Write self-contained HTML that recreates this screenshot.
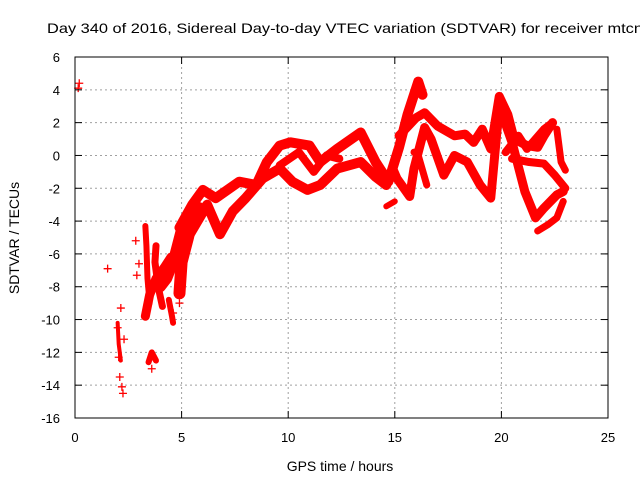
<!DOCTYPE html>
<html><head><meta charset="utf-8"><style>
body{margin:0;background:#fff}
svg{display:block;font-family:"Liberation Sans",sans-serif}
</style></head><body>
<svg id="c" width="640" height="480" viewBox="0 0 640 480" xmlns="http://www.w3.org/2000/svg">
<text x="47" y="33" font-size="14" textLength="596" lengthAdjust="spacingAndGlyphs">Day 340 of 2016, Sidereal Day-to-day VTEC variation (SDTVAR) for receiver mtcn</text>
<text x="340" y="471" font-size="14" text-anchor="middle">GPS time / hours</text>
<text x="0" y="0" font-size="14" text-anchor="middle" transform="translate(19,238) rotate(-90)">SDTVAR / TECUs</text>
<g id="grid"></g>
<g id="marks"></g>
<rect x="75" y="57" width="533" height="361" fill="none" stroke="#000" stroke-width="1"/>
<g id="axes"></g>
</svg>
<script>
const xTicks=[0,5,10,15,20,25];
const yTicks=[6,4,2,0,-2,-4,-6,-8,-10,-12,-14,-16];
const trackA=[[4.9,-4.4],[5.5,-3.0],[6.0,-2.1],[6.6,-2.6],[7.7,-1.6],[8.5,-1.8],[9.0,-0.4],[9.6,0.6],[10.1,0.8],[11.0,0.6],[11.5,-0.4],[12.3,0.4],[13.4,1.4],[14.1,-0.4],[14.7,-1.6],[15.2,0.5],[15.6,2.5],[16.1,4.5],[16.3,3.7]];
const trackB=[[5.2,-5.2],[6.2,-3.0],[6.8,-4.8],[7.4,-3.4],[8.0,-2.6],[8.8,-1.4],[9.6,-0.8],[10.2,-1.6],[10.9,-2.1],[11.5,-1.8],[12.3,-0.8],[13.4,-0.4],[14.1,-1.3],[14.6,-1.8]];
const trackC=[[9.6,-0.6],[10.5,0.2],[11.2,-1.0],[11.8,0.0],[12.4,-0.2]];
const trackD=[[15.2,1.2],[16.0,2.3],[16.4,2.6],[17.0,1.8],[17.8,1.2],[18.3,1.3],[18.7,0.8],[19.1,1.6],[19.5,0.4],[19.9,3.6],[20.3,2.5],[20.6,1.0],[21.2,0.6],[21.7,0.5],[22.0,1.2],[22.4,2.0]];
const trackE=[[14.9,-0.8],[15.1,-1.4],[15.7,-2.5],[15.9,-0.8],[16.4,1.7],[16.7,1.0],[17.3,-1.2],[17.8,0.0],[18.4,-0.4],[19.0,-1.8],[19.5,-2.6],[19.9,3.0],[20.5,0.8],[21.1,-2.2],[21.6,-3.8],[22.0,-3.2],[22.6,-2.4],[22.9,-2.2]];
const trackF=[[20.2,0.2],[20.8,1.2],[21.2,0.4],[22.0,1.6],[22.3,1.9]];
const trackG=[[20.5,-0.2],[21.3,-0.4],[22.0,-0.5],[22.5,-1.2],[23.0,-2.0]];
const trackH=[[15.9,0.2],[16.1,0.0],[16.5,-1.8]];
const trackI=[[22.6,1.6],[22.8,-0.4],[23.0,-0.9]];
const trackJ=[[21.7,-4.6],[22.2,-4.2],[22.6,-3.8],[22.9,-2.8]];
const trackK=[[4.9,-8.4],[5.0,-6.5],[5.3,-5.0],[5.5,-3.8],[5.8,-3.2]];
const trackL=[[4.0,-8.0],[4.3,-7.5],[4.6,-6.5],[4.8,-5.5],[5.0,-4.5]];
const trackM=[[3.3,-9.8],[3.5,-8.5],[3.8,-7.5],[4.2,-6.8],[4.5,-6.2]];
const trackN=[[3.3,-4.3],[3.35,-5.5],[3.4,-7.5],[3.5,-9.0]];
const trackO=[[3.45,-12.6],[3.6,-12.0],[3.8,-12.5]];
const trackP=[[14.6,-3.1],[15.0,-2.8]];
const trackQ=[[3.8,-5.5],[3.75,-6.5],[3.9,-8.0],[4.1,-9.2]];
const trackR=[[4.4,-8.8],[4.55,-9.8],[4.6,-10.2]];
const trackS=[[2.0,-10.2],[2.05,-11.5],[2.15,-12.5]];
const scatterX=[0.15,0.2,1.53,2.85,2.9,2.15,2.2,2.25,2.3,2.0,2.1,3.6,3.0,4.6,4.9,2.05];
const scatterY=[4.1,4.4,-6.9,-5.2,-7.3,-9.3,-14.1,-14.5,-11.2,-10.5,-13.5,-13.0,-6.6,-9.6,-9.0,-12.3];
const tracks=[trackA,trackB,trackC,trackD,trackE,trackF,trackG,trackH,trackI,trackJ,trackK,trackL,trackM,trackN,trackO,trackP,trackQ,trackR,trackS];
const widths=[10,10,8,9,9,8,8,7,7,7,12,11,9,6,6,6,7,6,4];
const NS='http://www.w3.org/2000/svg';
function sx(h){return 75+(h-0)/25*533;}
function sy(v){return 57+(6-v)/22*361;}
const grid=document.getElementById('grid'),axes=document.getElementById('axes'),marks=document.getElementById('marks');
function mk(tag,attrs,parent){const e=document.createElementNS(NS,tag);for(const k in attrs)e.setAttribute(k,attrs[k]);parent.appendChild(e);return e;}
xTicks.forEach(t=>{const x=sx(t);
 if(t>0&&t<25){const g=mk('line',{x1:x,x2:x,y1:57,y2:418,stroke:'#a0a0a0','stroke-dasharray':'2,3'},grid);}
 const tk=mk('line',{x1:x,x2:x,y1:418,y2:411,stroke:'#000'},axes);
 const tk2=mk('line',{x1:x,x2:x,y1:57,y2:64,stroke:'#000'},axes);
 const l=mk('text',{x:x,y:442,'font-size':13,'text-anchor':'middle'},axes);l.textContent=t;});
yTicks.forEach(t=>{const y=sy(t);
 if(t<6&&t>-16){const g=mk('line',{x1:75,x2:608,y1:y,y2:y,stroke:'#a0a0a0','stroke-dasharray':'2,3'},grid);}
 const tk=mk('line',{x1:75,x2:82,y1:y,y2:y,stroke:'#000'},axes);
 const tk2=mk('line',{x1:601,x2:608,y1:y,y2:y,stroke:'#000'},axes);
 const l=mk('text',{x:60,y:y+5,'font-size':13,'text-anchor':'end'},axes);l.textContent=t;});
tracks.forEach((tr,i)=>{const p=mk('polyline',{points:tr.map(d=>sx(d[0])+','+sy(d[1])).join(' '),fill:'none',stroke:'#f00','stroke-width':widths[i],'stroke-linejoin':'round','stroke-linecap':'round'},marks);
 
 });
scatterX.forEach((h,i)=>{const x=sx(h),y=sy(scatterY[i]);
 const p=mk('path',{d:`M${x-4},${y}H${x+4}M${x},${y-4}V${y+4}`,stroke:'#f00','stroke-width':1.3,fill:'none'},marks);
 
 });
</script>
</body></html>
